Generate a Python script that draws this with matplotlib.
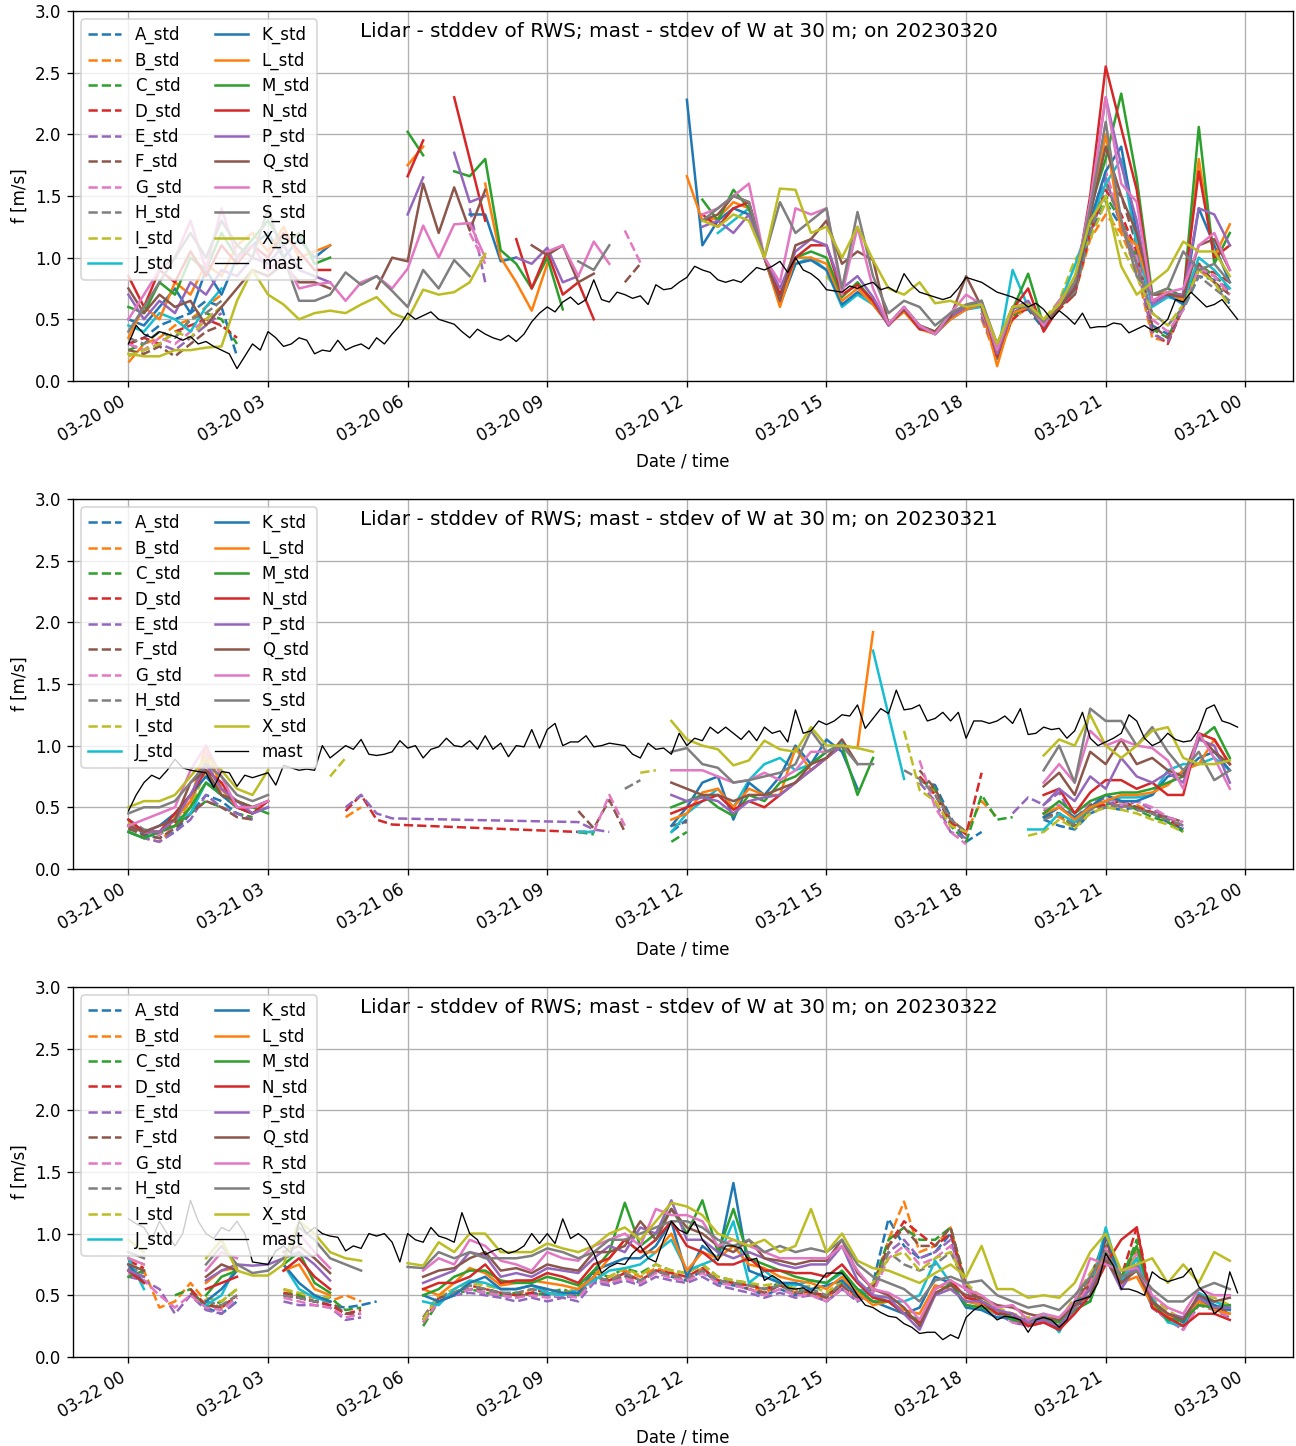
import numpy as np
import pandas as pd
import matplotlib
matplotlib.use('Agg')
import matplotlib.pyplot as plt
import matplotlib.dates as mdates

nan = np.nan

names = ['A', 'B', 'C', 'D', 'E', 'F', 'G', 'H', 'I', 'J',
         'K', 'L', 'M', 'N', 'P', 'Q', 'R', 'S', 'X']

# lidar std values every 20 min (72 per day), mast every 10 min (144 per day)

# ---------------- 2023-03-20 ----------------
A_20 = ([.30, .35, .45, .50, .55, .65, .60, .20, nan, nan, nan, nan] + [nan]*36 +
        [nan]*7 + [.55, .25, .55, .58, .42] +
        [.60, .72, 1.20, 1.45, 1.25, .95, .45, .38, .58, .85, .82, .62])
B_20 = ([.15, .30, .35, .45, .50, .60, .70, nan, nan, nan, nan, nan] + [nan]*36 +
        [nan]*7 + [.50, .18, .50, .60, .45] +
        [.62, .70, 1.15, 1.35, 1.20, .90, .35, .32, .60, .90, .80, .70])
C_20 = ([.25, .30, .40, .35, .50, .55, .50, .30, nan, nan, nan, nan] + [nan]*36 +
        [nan]*7 + [.58, .20, .52, .62, .45] +
        [.60, .75, 1.25, 1.50, 1.30, 1.00, .42, .35, .62, .95, .85, .75])
D_20 = ([.30, .35, .30, .40, .45, .50, .45, .35, nan, nan, nan, nan] + [nan]*36 +
        [nan]*7 + [.55, .22, .50, .60, .44] +
        [.58, .70, 1.20, 1.55, 1.35, 1.05, .40, .30, .60, .90, .88, .80])
E_20 = ([.30, .25, .30, .25, .35, .45, .55, nan, nan, nan, nan, nan] +
        [nan]*10 + [1.40, .80] + [nan]*24 +
        [nan]*7 + [.52, .20, .55, .62, .45] +
        [.60, .72, 1.30, 1.65, 1.25, .95, .38, .32, .60, .90, .85, .72])
F_20 = ([.25, .22, .28, .20, .30, .40, .45, nan, nan, nan, nan, nan] + [nan]*12 +
        [nan]*8 + [.80, .95, nan, nan] + [nan]*12 +
        [nan]*7 + [.55, .25, .55, .60, .45] +
        [.60, .70, 1.25, 1.60, 1.50, 1.10, .45, .35, .60, .95, .80, .70])
G_20 = ([.30, .25, .35, .30, .40, .50, .60, nan, nan, nan, nan, nan] +
        [nan]*10 + [1.20, .95] +
        [nan]*8 + [1.22, .96, nan, nan] + [nan]*12 +
        [nan]*7 + [.55, .30, .55, .62, .45] +
        [.62, .75, 1.30, 1.70, 1.30, 1.00, .50, .40, .58, .92, .85, .70])
H_20 = ([.35, .30, .40, .35, .50, .55, .65, nan, nan, nan, nan, nan] + [nan]*36 +
        [nan]*7 + [.58, .30, .55, .60, .48] +
        [.62, .72, 1.20, 1.60, 1.30, .95, .55, .45, .60, .85, .75, .65])
I_20 = ([.20, .25, .30, .40, .35, .50, .60, nan, nan, nan, nan, nan] + [nan]*24 +
        [nan]*9 + [.85, .70, nan] +
        [nan]*7 + [.60, .30, .60, .62, .50] +
        [.65, .98, 1.15, 1.45, 1.10, .85, .55, .45, .62, .90, .80, .60])
J_20 = ([.45, .40, .55, .50, .40, .60, .75, nan, nan, nan, nan, nan] +
        [nan]*11 + [1.35] + [nan]*12 +
        [nan, nan, 1.20, 1.30, 1.40, 1.00, .62, .95, 1.00, .90, .60, .70] +
        [.62, .46, .58, .45, .38, .50, .58, .60, .20, .90, .60, .45] +
        [.62, .93, 1.30, 1.60, 1.80, 1.10, .60, .68, .65, 1.00, .90, .75])
K_20 = ([.50, .45, .60, .75, .55, .90, .70, 1.00, 1.10, 1.20, 1.00, 1.15] +
        [1.00, 1.10] + [nan]*8 + [1.35, 1.35] +
        [.97, 1.00] + [nan]*10 +
        [2.28, 1.10, 1.30, 1.40, 1.35, 1.00, .62, .95, .98, .90, .62, .72] +
        [.65, .46, .58, .44, .38, .52, .58, .62, .18, .55, .62, .42] +
        [.60, .75, 1.30, 1.70, 1.90, 1.20, .65, .70, .62, 1.40, 1.10, .80])
L_20 = ([.35, .60, .50, .80, .70, .95, .85, 1.10, 1.20, 1.05, 1.25, 1.00] +
        [1.05, 1.10, nan, nan, nan, nan, 1.75, 1.90, nan, nan, nan, 1.60] +
        [1.00, .80, .57, .95] + [nan]*8 +
        [1.66, 1.30, 1.32, 1.45, 1.40, 1.00, .60, 1.00, 1.00, .95, .65, .75] +
        [.62, .46, .56, .42, .38, .50, .58, .62, .12, .55, .60, .45] +
        [.60, .78, 1.35, 2.00, 1.20, 1.10, .70, .72, .65, 1.80, 1.00, 1.27])
M_20 = ([.60, .55, .80, .70, 1.00, .90, 1.20, 1.00, 1.15, 1.30, 1.10, 1.20] +
        [.95, 1.00, nan, nan, nan, nan, 2.02, 1.83, nan, 1.70, 1.66, 1.80] +
        [1.06, .95, .75, 1.00, .58] + [nan]*7 +
        [nan, 1.47, 1.30, 1.55, 1.40, 1.00, .70, 1.00, 1.05, 1.00, .68, .80] +
        [.65, .46, .60, .45, .40, .55, .60, .65, .20, .58, .87, .45] +
        [.65, .80, 1.40, 1.80, 2.33, 1.64, .70, .75, .68, 2.06, .95, 1.20])
N_20 = ([.85, .60, .90, .80, 1.05, .85, 1.10, .95, 1.10, 1.00, 1.20, 1.05] +
        [.90, .90, nan, nan, nan, nan, 1.66, 1.95, nan, 2.30, 1.80, 1.30] +
        [nan, 1.15, .75, 1.05, .70, .80, .50] + [nan]*5 +
        [nan, 1.35, 1.25, 1.40, 1.45, 1.00, .70, 1.00, 1.10, 1.10, .70, .78] +
        [.65, .45, .58, .42, .40, .52, .60, .62, .20, .58, .75, .40] +
        [.60, .75, 1.50, 2.55, 2.05, 1.55, .65, .70, .70, 1.70, 1.00, 1.10])
P_20 = ([.70, .50, .65, .55, .80, .70, .90, .85, 1.00, .95, 1.10, .90] +
        [.85, .80, nan, nan, nan, nan, 1.35, 1.65, nan, 1.85, 1.45, 1.50] +
        [nan, 1.00, .95, 1.08, .80, .85] + [nan]*6 +
        [nan, 1.25, 1.30, 1.20, 1.35, 1.00, .75, 1.05, 1.15, 1.10, .75, .85] +
        [.68, .45, .60, .44, .38, .52, .60, .62, .22, .58, .65, .45] +
        [.62, .78, 1.45, 2.30, 1.75, 1.30, .62, .70, .70, 1.40, 1.35, 1.10])
Q_20 = ([.75, .55, .70, .60, .65, .45, .60, .75, .90, .85, .95, .80] +
        [.80, .75, nan, nan, .75, 1.00, .97, 1.60, 1.20, 1.57, 1.22, 1.55] +
        [nan, nan, 1.10, 1.02, 1.10, .80, .87] + [nan]*5 +
        [nan, 1.30, 1.35, 1.50, 1.45, 1.00, .65, 1.10, 1.15, 1.30, .95, 1.05] +
        [.98, .46, .58, .45, .40, .52, .85, .60, .25, .60, .60, .45] +
        [.60, .75, 1.35, 1.90, 1.50, 1.20, .70, .70, .68, 1.10, 1.15, .90])
R_20 = ([.50, .70, .90, 1.00, 1.30, .90, 1.40, 1.00, 1.10, .90, 1.00, .75] +
        [.78, .80, .65, .80, .85, .75, .91, 1.26, 1.00, 1.27, 1.28, 1.00] +
        [nan, nan, nan, 1.05, 1.10, .85, 1.13, .95] + [nan]*4 +
        [nan, 1.35, 1.40, 1.50, 1.60, 1.00, .80, 1.40, 1.35, 1.40, .70, 1.25] +
        [.75, .46, .60, .45, .38, .55, .70, .62, .25, .60, .62, .45] +
        [.65, .80, 1.45, 2.30, 1.60, 1.45, .65, .72, .75, 1.10, 1.20, .90])
S_20 = ([.40, .60, .80, 1.00, 1.20, 1.00, 1.30, 1.10, 1.00, 1.40, 1.00, .65] +
        [.65, .70, .88, .78, .85, .73, .60, .90, .75, .98, .85, nan] +
        [nan]*5 + [.97, .90, 1.10] + [nan]*4 +
        [nan, 1.30, 1.40, 1.50, 1.45, 1.00, 1.45, 1.20, 1.30, 1.40, .75, 1.37] +
        [.85, .55, .65, .60, .45, .55, .62, .65, .30, .60, .60, .48] +
        [.62, .80, 1.40, 2.10, 1.30, .85, .70, .75, 1.05, .90, .95, .80])
X_20 = ([.22, .20, .20, .25, .25, .27, .28, .65, .90, .70, .62, .50] +
        [.55, .57, .55, .62, .68, .55, .50, .74, .70, .72, .80, 1.03] +
        [nan]*12 +
        [nan, 1.30, 1.25, 1.35, 1.30, 1.00, 1.56, 1.55, 1.20, 1.25, 1.00, 1.25] +
        [.98, .75, .70, .80, .63, .65, .60, .62, .30, .60, .62, .50] +
        [.62, .85, 1.30, 1.50, .93, .70, .80, .90, 1.13, 1.05, 1.05, .85])
mast_20 = [.30, .45, .38, .35, .40, .38, .36, .33, .36, .30, .32, .28,
           .25, .22, .10, .20, .30, .25, .40, .35, .28, .30, .35, .33,
           .22, .25, .24, .33, .25, .28, .30, .26, .35, .30, .38, .45,
           .55, .50, .53, .56, .50, .48, .46, .40, .35, .42, .38, .35,
           .33, .37, .32, .38, .48, .55, .60, .56, .64, .68, .62, .66,
           .82, .66, .64, .72, .70, .67, .69, .62, .78, .74, .75, .80,
           .84, .93, .90, .88, .82, .80, .82, .80, .86, .92, .90, .93,
           .97, .88, 1.00, .90, .87, .82, .74, .73, .72, .77, .75, .78,
           .80, .74, .76, .72, .87, .78, .72, .70, .68, .66, .68, .75,
           .84, .82, .80, .76, .72, .70, .68, .65, .60, .63, .58, .50,
           .57, .52, .46, .55, .43, .44, .44, .47, .46, .39, .42, .45,
           .41, .44, .50, .66, .64, .72, .66, .60, .62, .66, .58, .50]

# ---------------- 2023-03-21 ----------------
A_21 = ([.35, .28, .25, .30, .45, .60, .55, .45, .40, nan, nan, nan] + [nan]*12 +
        [nan]*5 + [.30, .30, nan, nan, nan, nan, .30] +
        [.40] + [nan]*11 +
        [nan, nan, nan, .72, .68, .42, .22, .30, nan, nan, nan, .40] +
        [.35, .32, .45, .50, .48, .50, .45, .38, .32, nan, nan, nan])
B_21 = ([.30, .25, .22, .35, .50, .90, .60, .50, .45, nan, nan, nan] +
        [nan, nan, .42, .50] + [nan]*8 + [nan]*24 +
        [nan, nan, nan, .75, .62, .40, .30, .55, .42, nan, nan, .45] +
        [.42, .35, .48, .55, .50, .52, .45, .40, .35, nan, nan, nan])
C_21 = ([.32, .30, .28, .35, .45, .55, .50, .45, .42, nan, nan, nan] + [nan]*12 +
        [nan]*5 + [.30, .28, nan, nan, nan, nan, .22] +
        [.30] + [nan]*11 +
        [nan, nan, nan, .72, .65, .35, .22, .60, .40, .42, nan, .42] +
        [.45, .33, .50, .52, .55, .48, .42, .38, .30, nan, nan, nan])
D_21 = ([.38, .30, .28, .38, .50, .70, .60, .50, .45, nan, nan, nan] +
        [nan, nan, .47, .60, .40, .36] + [nan]*6 +
        [nan]*5 + [.30, .30] + [nan]*5 + [nan]*12 +
        [nan, nan, nan, .75, .60, .38, .28, .78, nan, nan, nan, .48] +
        [.45, .35, .50, .52, .55, .50, .46, .40, .33, nan, nan, nan])
E_21 = ([.30, .25, .22, .30, .40, .60, .50, .45, .40, nan, nan, nan] +
        [nan, nan, .50, .60, .45, .41] + [nan]*6 +
        [nan]*5 + [.38, .32, .30] + [nan]*4 + [nan]*12 +
        [nan, nan, nan, .70, .55, .30, .25, nan, nan, .45, .58, .52] +
        [.62, .38, .52, .55, .50, .55, .48, .42, .35, nan, nan, nan])
F_21 = ([.33, .27, .25, .33, .45, .55, .50, .42, .40, nan, nan, nan] + [nan]*12 +
        [nan]*5 + [.47, .33, .56, .30, nan, nan, .35] +
        [.38] + [nan]*11 +
        [nan, nan, nan, .80, .65, .40, .30, nan, nan, nan, nan, .42] +
        [.45, .36, .52, .58, .55, .50, .45, .42, .38, nan, nan, nan])
G_21 = ([.35, .30, .28, .35, .50, .95, .65, .50, .48, nan, nan, nan] + [nan]*12 +
        [nan]*6 + [.30, .60, .35, nan, nan, nan] + [nan]*12 +
        [nan, nan, nan, .88, .50, .30, .20, nan, nan, nan, nan, .48] +
        [.52, .40, .55, .58, .52, .55, .50, .42, .38, nan, nan, nan])
H_21 = ([.40, .32, .30, .40, .55, .85, .65, .55, .50, nan, nan, nan] + [nan]*12 +
        [nan]*8 + [.65, .72, nan, nan] + [nan]*12 +
        [nan, nan, .80, .73, .60, .40, .30, nan, nan, nan, nan, .40] +
        [.45, .35, .48, .50, .52, .48, .45, .40, .35, nan, nan, nan])
I_21 = ([.38, .30, .30, .42, .50, .80, .60, .55, .50, nan, nan, nan] +
        [nan, .75, .90] + [nan]*9 +
        [nan]*9 + [.78, .80, nan] + [nan]*12 +
        [nan, nan, 1.12, .64, .55, .35, .30, nan, nan, nan, .27, .30] +
        [.40, .33, .45, .50, .48, .45, .40, .36, .30, nan, nan, nan])
J_21 = ([.30, .25, .30, .40, .45, .70, .60, .50, .50, .55, nan, nan] + [nan]*12 +
        [nan]*5 + [.30, .30, nan, nan, nan, nan, .30] +
        [.45, .55, .65, .50, .72, .85, .90, .80, .85, .95, 1.02, nan] +
        [1.77, nan, .73] + [nan]*7 + [.32, .32] +
        [.45, .38, .50, .55, .58, .58, .60, .80, .85, .85, .90, .80])
K_21 = ([.40, .30, .35, .45, .60, .75, .60, .50, .45, .50, nan, nan] + [nan]*12 +
        [nan]*11 + [.35] +
        [.50, .70, .75, .40, .70, .60, .75, 1.00, .85, 1.05, .95, .65] +
        [nan]*11 + [.42] +
        [.50, .42, .50, .60, .55, .55, .60, .75, .78, .90, .95, .80])
L_21 = ([.35, .30, .30, .40, .55, 1.00, .65, .50, .50, .55, nan, nan] + [nan]*12 +
        [nan]*11 + [.40] +
        [.45, .62, .65, .50, .65, .60, .60, .98, .80, .90, 1.00, .98] +
        [1.92] + [nan]*10 + [.45] +
        [.50, .40, .50, .55, .60, .60, .62, .68, .80, .85, 1.05, .85])
M_21 = ([.30, .25, .30, .35, .50, .70, .60, .55, .50, .45, nan, nan] + [nan]*12 +
        [nan]*11 + [.50] +
        [.55, .60, .50, .43, .60, .55, .70, .75, .85, .95, 1.00, .60] +
        [.90] + [nan]*10 + [.45] +
        [.55, .45, .55, .60, .62, .62, .65, .70, .75, 1.05, 1.15, .90])
N_21 = ([.40, .30, .30, .45, .60, .80, .70, .50, .45, .55, nan, nan] + [nan]*12 +
        [nan]*11 + [.45] +
        [.50, .55, .60, .48, .55, .50, .60, .70, .80, .90, 1.00, nan] +
        [nan]*11 + [.60] +
        [.65, .45, .62, .72, .72, .65, .70, .60, .60, 1.10, 1.05, .85])
P_21 = ([.35, .30, .30, .40, .60, .85, .65, .55, .45, .50, nan, nan] + [nan]*12 +
        [nan]*11 + [.60] +
        [.55, .58, .55, .45, .55, .58, .60, .70, .80, .90, 1.00, nan] +
        [nan]*11 + [.52] +
        [.65, .55, .75, .65, .90, .75, .70, .78, .70, 1.05, 1.00, .70])
Q_21 = ([.35, .30, .35, .40, .70, .80, .60, .55, .50, .55, nan, nan] + [nan]*12 +
        [nan]*11 + [.70] +
        [.65, .60, .60, .55, .60, .60, .65, .70, .85, .90, 1.05, .85] +
        [nan]*11 + [.67] +
        [.78, .60, .95, .85, 1.05, .85, .90, .80, .75, 1.08, .95, .85])
R_21 = ([.35, .40, .45, .50, .80, 1.00, .75, .50, .50, .55, nan, nan] + [nan]*12 +
        [nan]*11 + [.80] +
        [.80, .80, .75, .70, .72, .78, .72, .80, .95, .95, 1.00, nan] +
        [nan]*11 + [.70] +
        [.85, .70, 1.12, 1.00, 1.05, 1.00, .98, .88, .65, 1.10, .90, .65])
S_21 = ([.45, .50, .50, .55, .70, .85, .75, .60, .55, .60, nan, nan] + [nan]*12 +
        [nan]*11 + [.95] +
        [.98, .85, .82, .70, .72, .75, .78, .85, 1.12, .95, 1.00, .85] +
        [.85] + [nan]*10 + [.80] +
        [1.00, .70, 1.30, 1.20, 1.20, 1.00, 1.15, .95, .80, .95, .72, .80])
X_21 = ([.50, .55, .55, .60, .75, .90, .80, .65, .60, .80, nan, nan] + [nan]*12 +
        [nan]*11 + [1.20] +
        [1.05, 1.00, .97, .84, .88, 1.04, .97, .95, 1.15, 1.00, 1.00, .98] +
        [.95] + [nan]*10 + [.92] +
        [1.05, 1.00, 1.25, 1.00, .90, 1.00, 1.12, 1.15, .90, .85, .85, .88])
mast_21 = [.47, .60, .70, .76, .73, .80, .89, .82, .80, .79, .78, .66,
           .79, .78, .67, .76, .74, .76, .78, .68, .84, .82, .80, .81,
           .80, 1.00, .90, .95, 1.00, .97, 1.05, .93, .92, .93, .95, 1.04,
           .98, 1.00, .90, .97, .99, 1.06, 1.00, .99, 1.04, .97, 1.08, .97,
           1.02, .91, 1.00, .99, 1.13, .98, 1.13, 1.18, 1.00, 1.03, 1.03, 1.08,
           .99, 1.00, 1.02, 1.01, 1.00, .93, .90, 1.02, .97, .98, .93, 1.10,
           1.00, 1.06, 1.04, 1.15, 1.10, 1.15, 1.10, 1.05, 1.12, 1.04, 1.15, 1.10,
           1.12, 1.03, 1.29, 1.10, 1.12, 1.20, 1.17, 1.20, 1.25, 1.24, 1.33, 1.14,
           1.22, 1.30, 1.26, 1.45, 1.29, 1.30, 1.33, 1.20, 1.22, 1.27, 1.20, 1.27,
           1.06, 1.20, 1.20, 1.18, 1.20, 1.24, 1.18, 1.30, 1.09, 1.10, 1.15, 1.13,
           1.14, 1.06, 1.12, 1.27, 1.06, 1.00, 1.03, 1.06, 1.10, 1.25, 1.20, 1.06,
           1.00, 1.03, 1.10, 1.05, 1.03, 1.04, 1.13, 1.30, 1.33, 1.20, 1.18, 1.15]
# lidar rows missing in the file that day (lines are drawn straight across)
gap_rows_21 = list(range(18, 29)) + [49]

# ---------------- 2023-03-22 ----------------
A_22 = ([.72, .68, nan, nan, nan, .40, .35, .45, nan, nan, .50, .48] +
        [.45, .42, .40, .42, .45, nan, nan, .30, .48, .50, .55, .52] +
        [.50, .48, .52, .50, .48, .50, .62, .58, .65, .60, .70, .65] +
        [.62, .70, .60, .58, .55, .50, .55, .50, .55, .45, .55, .45] +
        [.60, 1.12, .90, .80, .85, 1.00, .55, .40, .35, .30, .25, .30] +
        [.25, .40, .60, 1.00, .55, .75, .40, .30, .25, .45, .40, .38])
B_22 = ([.75, .70, .40, .45, .60, .45, .40, .50, nan, nan, .55, .50] +
        [.48, .45, .50, .45, nan, nan, nan, .32, .50, .52, .58, .55] +
        [.52, .50, .55, .52, .50, .52, .65, .62, .70, .65, .72, .68] +
        [.65, .72, .62, .60, .58, .52, .58, .52, .50, .48, .58, .48] +
        [.55, .95, 1.26, .85, .90, 1.05, .55, .45, .38, .30, .28, .32] +
        [.28, .42, .62, .90, .60, .85, .42, .30, .28, .48, .42, .36])
C_22 = ([.70, .65, nan, .50, .55, .40, .45, .55, nan, nan, .52, .50] +
        [.45, .48, .38, .40, nan, nan, nan, .25, .45, .50, .55, .52] +
        [.50, .52, .50, .52, .55, .50, .68, .65, .72, .68, .75, .70] +
        [.68, .75, .65, .62, .60, .55, .60, .55, .52, .50, .60, .50] +
        [.58, .95, 1.05, .95, .95, 1.05, .60, .45, .40, .32, .28, .30] +
        [.25, .45, .65, .95, .62, .95, .45, .32, .28, .45, .40, .35])
D_22 = ([.78, .72, nan, nan, .55, .42, .40, .50, nan, nan, .52, .48] +
        [.45, .42, .35, .38, nan, nan, nan, .28, .48, .52, .58, .55] +
        [.52, .50, .52, .55, .52, .55, .70, .62, .68, .62, .70, .68] +
        [.65, .72, .62, .60, .58, .55, .58, .55, .52, .50, .58, .50] +
        [.58, .90, 1.10, 1.00, .90, 1.00, .58, .45, .35, .30, .25, .28] +
        [.25, .42, .62, .95, .65, 1.05, .45, .30, .25, .45, .40, .35])
E_22 = ([.65, .62, .55, .35, .50, .38, .35, .45, nan, nan, .45, .42] +
        [.42, .40, .30, .32, nan, nan, nan, .30, .45, .50, .52, .50] +
        [.48, .45, .48, .45, .48, .45, .60, .58, .62, .58, .65, .62] +
        [.60, .65, .58, .55, .52, .48, .52, .48, .50, .45, .55, .45] +
        [.52, .85, .95, .80, .85, .95, .52, .40, .35, .28, .25, .28] +
        [.22, .38, .58, .85, .55, .80, .40, .30, .22, .42, .38, .32])
F_22 = ([.70, .65, nan, nan, .52, .42, .40, .48, nan, nan, .50, .48] +
        [.45, .45, .35, .35, nan, nan, nan, .30, .48, .52, .55, .55] +
        [.52, .50, .50, .52, .50, .52, .65, .60, .66, .62, .70, .66] +
        [.62, .70, .62, .60, .55, .52, .58, .52, .52, .48, .58, .48] +
        [.55, .90, 1.05, .90, .90, 1.05, .58, .42, .35, .30, .27, .30] +
        [.25, .40, .60, .90, .60, .90, .42, .30, .25, .45, .42, .35])
G_22 = ([.68, .62, .50, .40, .50, .40, .38, .48, nan, nan, .48, .45] +
        [.42, .40, .32, .35, nan, nan, nan, .28, .45, .50, .55, .52] +
        [.50, .48, .50, .48, .50, .48, .62, .60, .64, .60, .68, .64] +
        [.62, .68, .60, .58, .55, .50, .55, .50, .50, .45, .55, .46] +
        [.52, .80, .90, .75, .80, .90, .55, .40, .35, .28, .25, .28] +
        [.22, .40, .60, .88, .58, .85, .40, .30, .22, .42, .40, .32])
H_22 = ([.72, .68, nan, nan, nan, .45, .42, .50, nan, nan, .50, .48] +
        [.45, .45, nan, nan, nan, nan, nan, .32, .50, .52, .58, .55] +
        [.52, .52, .55, .52, .50, .52, .65, .62, .68, .62, .70, .66] +
        [.64, .70, .62, .60, .58, .55, .58, .52, .55, .50, .60, .50] +
        [.58, .85, .75, .70, .75, .85, .58, .45, .38, .32, .30, .32] +
        [.28, .45, .65, .85, .60, .80, .45, .35, .28, .48, .45, .40])
I_22 = ([.80, .75, nan, nan, nan, .48, .45, .55, nan, nan, .55, .52] +
        [.50, .48, nan, nan, nan, nan, nan, .30, .50, .55, .60, .58] +
        [.55, .55, .58, .55, .52, .55, .70, .65, .72, .66, .75, .70] +
        [.68, .75, .65, .62, .60, .58, .60, .55, .58, .52, .62, .52] +
        [.60, .80, .85, .70, .80, .85, .60, .48, .40, .35, .32, .35] +
        [.30, .48, .68, .85, .62, .82, .48, .38, .30, .50, .48, .42])
J_22 = ([.80, .55, nan, nan, nan, .42, .50, .75, nan, nan, .75, .55] +
        [.48, .45, nan, nan, nan, nan, nan, .45, .42, .55, .62, .60] +
        [.55, .55, .58, .52, .50, .55, .62, .70, .72, .75, .85, .95] +
        [.70, .75, .80, 1.10, .60, .70, .60, .58, .62, .60, .68, .55] +
        [.50, .45, .45, .50, .78, .60, .42, .40, .35, .30, .30, .35] +
        [.20, .45, .50, 1.05, .62, .80, .48, .28, .25, .52, .45, .40])
K_22 = ([.75, .60, nan, nan, nan, .45, .55, .70, nan, nan, .75, .60] +
        [.50, .45, nan, nan, nan, nan, nan, .50, .45, .50, .60, .65] +
        [.55, .55, .58, .55, .52, .52, .70, .75, .80, .80, .90, 1.10] +
        [.65, .90, .80, 1.41, .70, .65, .60, .60, .55, .58, .62, .50] +
        [.45, .40, .35, .40, .65, .60, .40, .38, .32, .32, .30, .32] +
        [.22, .42, .45, 1.00, .60, .72, .40, .35, .28, .50, .42, .38])
L_22 = ([.70, .65, nan, nan, nan, .60, .70, .72, nan, nan, .70, .75] +
        [.55, .50, nan, nan, nan, nan, nan, .55, .50, .60, .72, .68] +
        [.58, .60, .62, .60, .58, .55, .65, .80, .95, .85, .85, 1.00] +
        [.70, .85, .80, .90, .75, .72, .65, .62, .60, .55, .65, .52] +
        [.42, .45, .38, .35, .58, .55, .45, .42, .35, .35, .28, .30] +
        [.25, .40, .55, .85, .60, .65, .42, .33, .32, .45, .38, .35])
M_22 = ([.65, .70, nan, nan, nan, .50, .65, .70, nan, nan, .75, .85] +
        [.60, .52, nan, nan, nan, nan, nan, .50, .55, .65, .70, .70] +
        [.62, .60, .60, .65, .62, .58, .70, .85, 1.25, .90, 1.00, 1.20] +
        [1.00, 1.27, .85, 1.20, .80, .75, .70, .65, .62, .60, .70, .55] +
        [.45, .45, .35, .30, .50, .60, .42, .40, .38, .30, .30, .30] +
        [.28, .38, .45, .80, .65, .90, .45, .30, .30, .42, .40, .42])
N_22 = ([.70, .60, nan, nan, nan, .55, .60, .65, nan, nan, .70, .80] +
        [.65, .55, nan, nan, nan, nan, nan, .55, .60, .60, .65, .75] +
        [.60, .62, .62, .68, .65, .60, .75, .80, .95, .85, .95, 1.10] +
        [.90, .85, .75, .75, .80, .70, .70, .68, .68, .65, .75, .60] +
        [.48, .45, .35, .28, .55, .62, .48, .45, .35, .35, .25, .28] +
        [.22, .35, .50, .75, .95, 1.05, .40, .32, .25, .35, .35, .30])
P_22 = ([.70, .65, nan, nan, nan, .62, .70, .75, .74, .75, .80, .85] +
        [.75, .62, nan, nan, nan, nan, nan, .60, .65, .70, .85, .82] +
        [.65, .68, .65, .72, .70, .68, .80, .90, .85, 1.05, 1.00, 1.27] +
        [.95, .95, .85, .80, .85, .80, .75, .72, .75, .75, .90, .62] +
        [.50, .48, .35, .22, .50, .55, .45, .45, .38, .35, .28, .30] +
        [.25, .40, .55, .80, .55, .75, .45, .35, .32, .48, .40, .40])
Q_22 = ([.75, .70, nan, nan, nan, .65, .75, .70, nan, nan, .85, .90] +
        [.80, .68, nan, nan, nan, nan, nan, .65, .70, .72, .80, .85] +
        [.70, .72, .68, .75, .72, .70, .85, .85, .90, 1.10, .95, 1.20] +
        [1.05, 1.00, .90, .85, .95, .80, .78, .75, .78, .78, .95, .68] +
        [.55, .50, .40, .25, .52, .58, .50, .48, .42, .40, .35, .32] +
        [.30, .42, .50, .78, .60, .70, .45, .35, .30, .50, .45, .48])
R_22 = ([.80, .75, nan, nan, nan, .70, .85, .80, nan, nan, .95, 1.00] +
        [.85, .72, nan, nan, nan, nan, nan, .70, .80, .75, .95, .90] +
        [.78, .75, .70, .85, .80, .78, .90, .95, 1.00, .90, 1.20, 1.15] +
        [1.15, 1.10, .90, .95, .90, .85, .80, .80, .80, .80, .90, .70] +
        [.55, .52, .45, .30, .55, .62, .55, .50, .40, .42, .30, .35] +
        [.32, .45, .80, .75, .70, .72, .50, .40, .35, .55, .50, .50])
S_22 = ([.85, .80, nan, nan, nan, .75, .90, .75, .68, .70, .80, 1.05] +
        [.95, .80, .75, .70, nan, nan, .73, .72, .85, .80, .85, .80] +
        [.80, .80, .82, .88, .85, .80, .85, .95, .95, 1.00, 1.05, 1.10] +
        [1.10, 1.05, .95, .90, .95, .85, .90, .85, .88, .85, .95, .75] +
        [.65, .60, .55, .45, .62, .65, .60, .62, .50, .45, .40, .42] +
        [.38, .50, .65, .85, .65, .70, .55, .45, .45, .55, .60, .55])
X_22 = ([.95, .85, nan, nan, nan, .80, .95, .70, .66, .66, .75, 1.10] +
        [1.00, .85, .80, .78, nan, nan, .76, .74, .93, .85, 1.00, 1.00] +
        [.85, .85, .85, .92, .88, .85, .90, 1.00, 1.05, .95, 1.10, 1.25] +
        [1.22, 1.15, 1.00, .95, .90, .95, .85, .90, 1.20, .85, 1.00, .78] +
        [.72, .70, .65, .60, .68, .75, .65, .90, .55, .55, .48, .50] +
        [.48, .60, .85, 1.00, .70, .75, .80, .60, .75, .60, .85, .78])
mast_22 = [1.12, 1.08, 1.05, .95, 1.10, 1.00, .90, 1.00, 1.27, 1.10, 1.00, .96,
           1.05, 1.02, 1.10, 1.00, .77, .76, .75, .86, .90, .84, 1.10, 1.00,
           1.05, 1.00, .98, .97, .86, .90, .88, 1.00, .98, 1.00, .93, .77,
           1.00, .95, .93, 1.05, .98, .96, .93, 1.17, 1.00, .95, .83, .86,
           .88, .84, .86, .90, 1.00, .92, 1.00, .92, 1.12, .96, 1.00, .95,
           .84, .68, .73, .76, .75, .84, .90, .80, .77, .95, 1.10, 1.03,
           1.00, 1.10, .95, .87, .78, .90, .90, .88, .78, .80, .62, .66,
           .62, .56, .55, .56, .52, .60, .68, .68, .68, .60, .50, .42,
           .40, .36, .33, .32, .27, .24, .19, .20, .20, .14, .18, .15,
           .32, .38, .42, .36, .30, .33, .32, .30, .20, .30, .32, .30,
           .24, .30, .45, .47, .49, .60, .84, .74, .55, .55, .53, .50,
           .69, .64, .61, .63, .65, .72, .57, .50, .35, .40, .69, .52]

days = [
    ('20230320', '2023-03-20',
     [A_20, B_20, C_20, D_20, E_20, F_20, G_20, H_20, I_20, J_20,
      K_20, L_20, M_20, N_20, P_20, Q_20, R_20, S_20, X_20], mast_20, []),
    ('20230321', '2023-03-21',
     [A_21, B_21, C_21, D_21, E_21, F_21, G_21, H_21, I_21, J_21,
      K_21, L_21, M_21, N_21, P_21, Q_21, R_21, S_21, X_21], mast_21, gap_rows_21),
    ('20230322', '2023-03-22',
     [A_22, B_22, C_22, D_22, E_22, F_22, G_22, H_22, I_22, J_22,
      K_22, L_22, M_22, N_22, P_22, Q_22, R_22, S_22, X_22], mast_22, []),
]


def plot_day(ax, tag, start, series, mast, gap_rows):
    t0 = pd.Timestamp(start)
    for i, (name, vals) in enumerate(zip(names, series)):
        if len(vals) != 72:
            print('length', tag, name, len(vals))
        vals = np.array(vals, dtype=float)
        t = (t0 + pd.to_timedelta(np.arange(len(vals)) * 20, unit='min')).to_numpy()
        keep = np.ones(len(vals), dtype=bool)
        keep[[g for g in gap_rows if g < len(vals)]] = False
        ls = '--' if i < 9 else '-'
        ax.plot(t[keep], vals[keep], ls=ls, color='C%d' % (i % 10), label=name + '_std')
    if len(mast) != 144:
        print('length mast', tag, len(mast))
    tm = (t0 + pd.to_timedelta(np.arange(len(mast)) * 10, unit='min')).to_numpy()
    ax.plot(tm, mast, 'k-', lw=0.8, label='mast')

    ax.set_ylim(0, 3)
    ax.grid(True)
    ax.legend(loc='upper left', ncol=2, labelspacing=0.43)
    ax.text(0.497, 0.945, 'Lidar - stddev of RWS; mast - stdev of W at 30 m; on ' + tag,
            transform=ax.transAxes, ha='center', va='center', fontsize=12)
    ax.set_ylabel('f [m/s]')
    ax.set_xlabel('Date / time')
    ax.xaxis.set_major_locator(mdates.HourLocator(byhour=range(0, 24, 3)))
    ax.xaxis.set_major_formatter(mdates.DateFormatter('%m-%d %H'))
    plt.setp(ax.get_xticklabels(), rotation=30, ha='right')


fig, axes = plt.subplots(3, 1, figsize=(10.8, 12.05), dpi=120)
fig.subplots_adjust(left=0.0563, right=0.9977, top=0.9924, bottom=0.0616, hspace=0.319)

for ax, (tag, start, series, mast, gaps) in zip(axes, days):
    plot_day(ax, tag, start, series, mast, gaps)

fig.savefig('out.png', dpi=120)
